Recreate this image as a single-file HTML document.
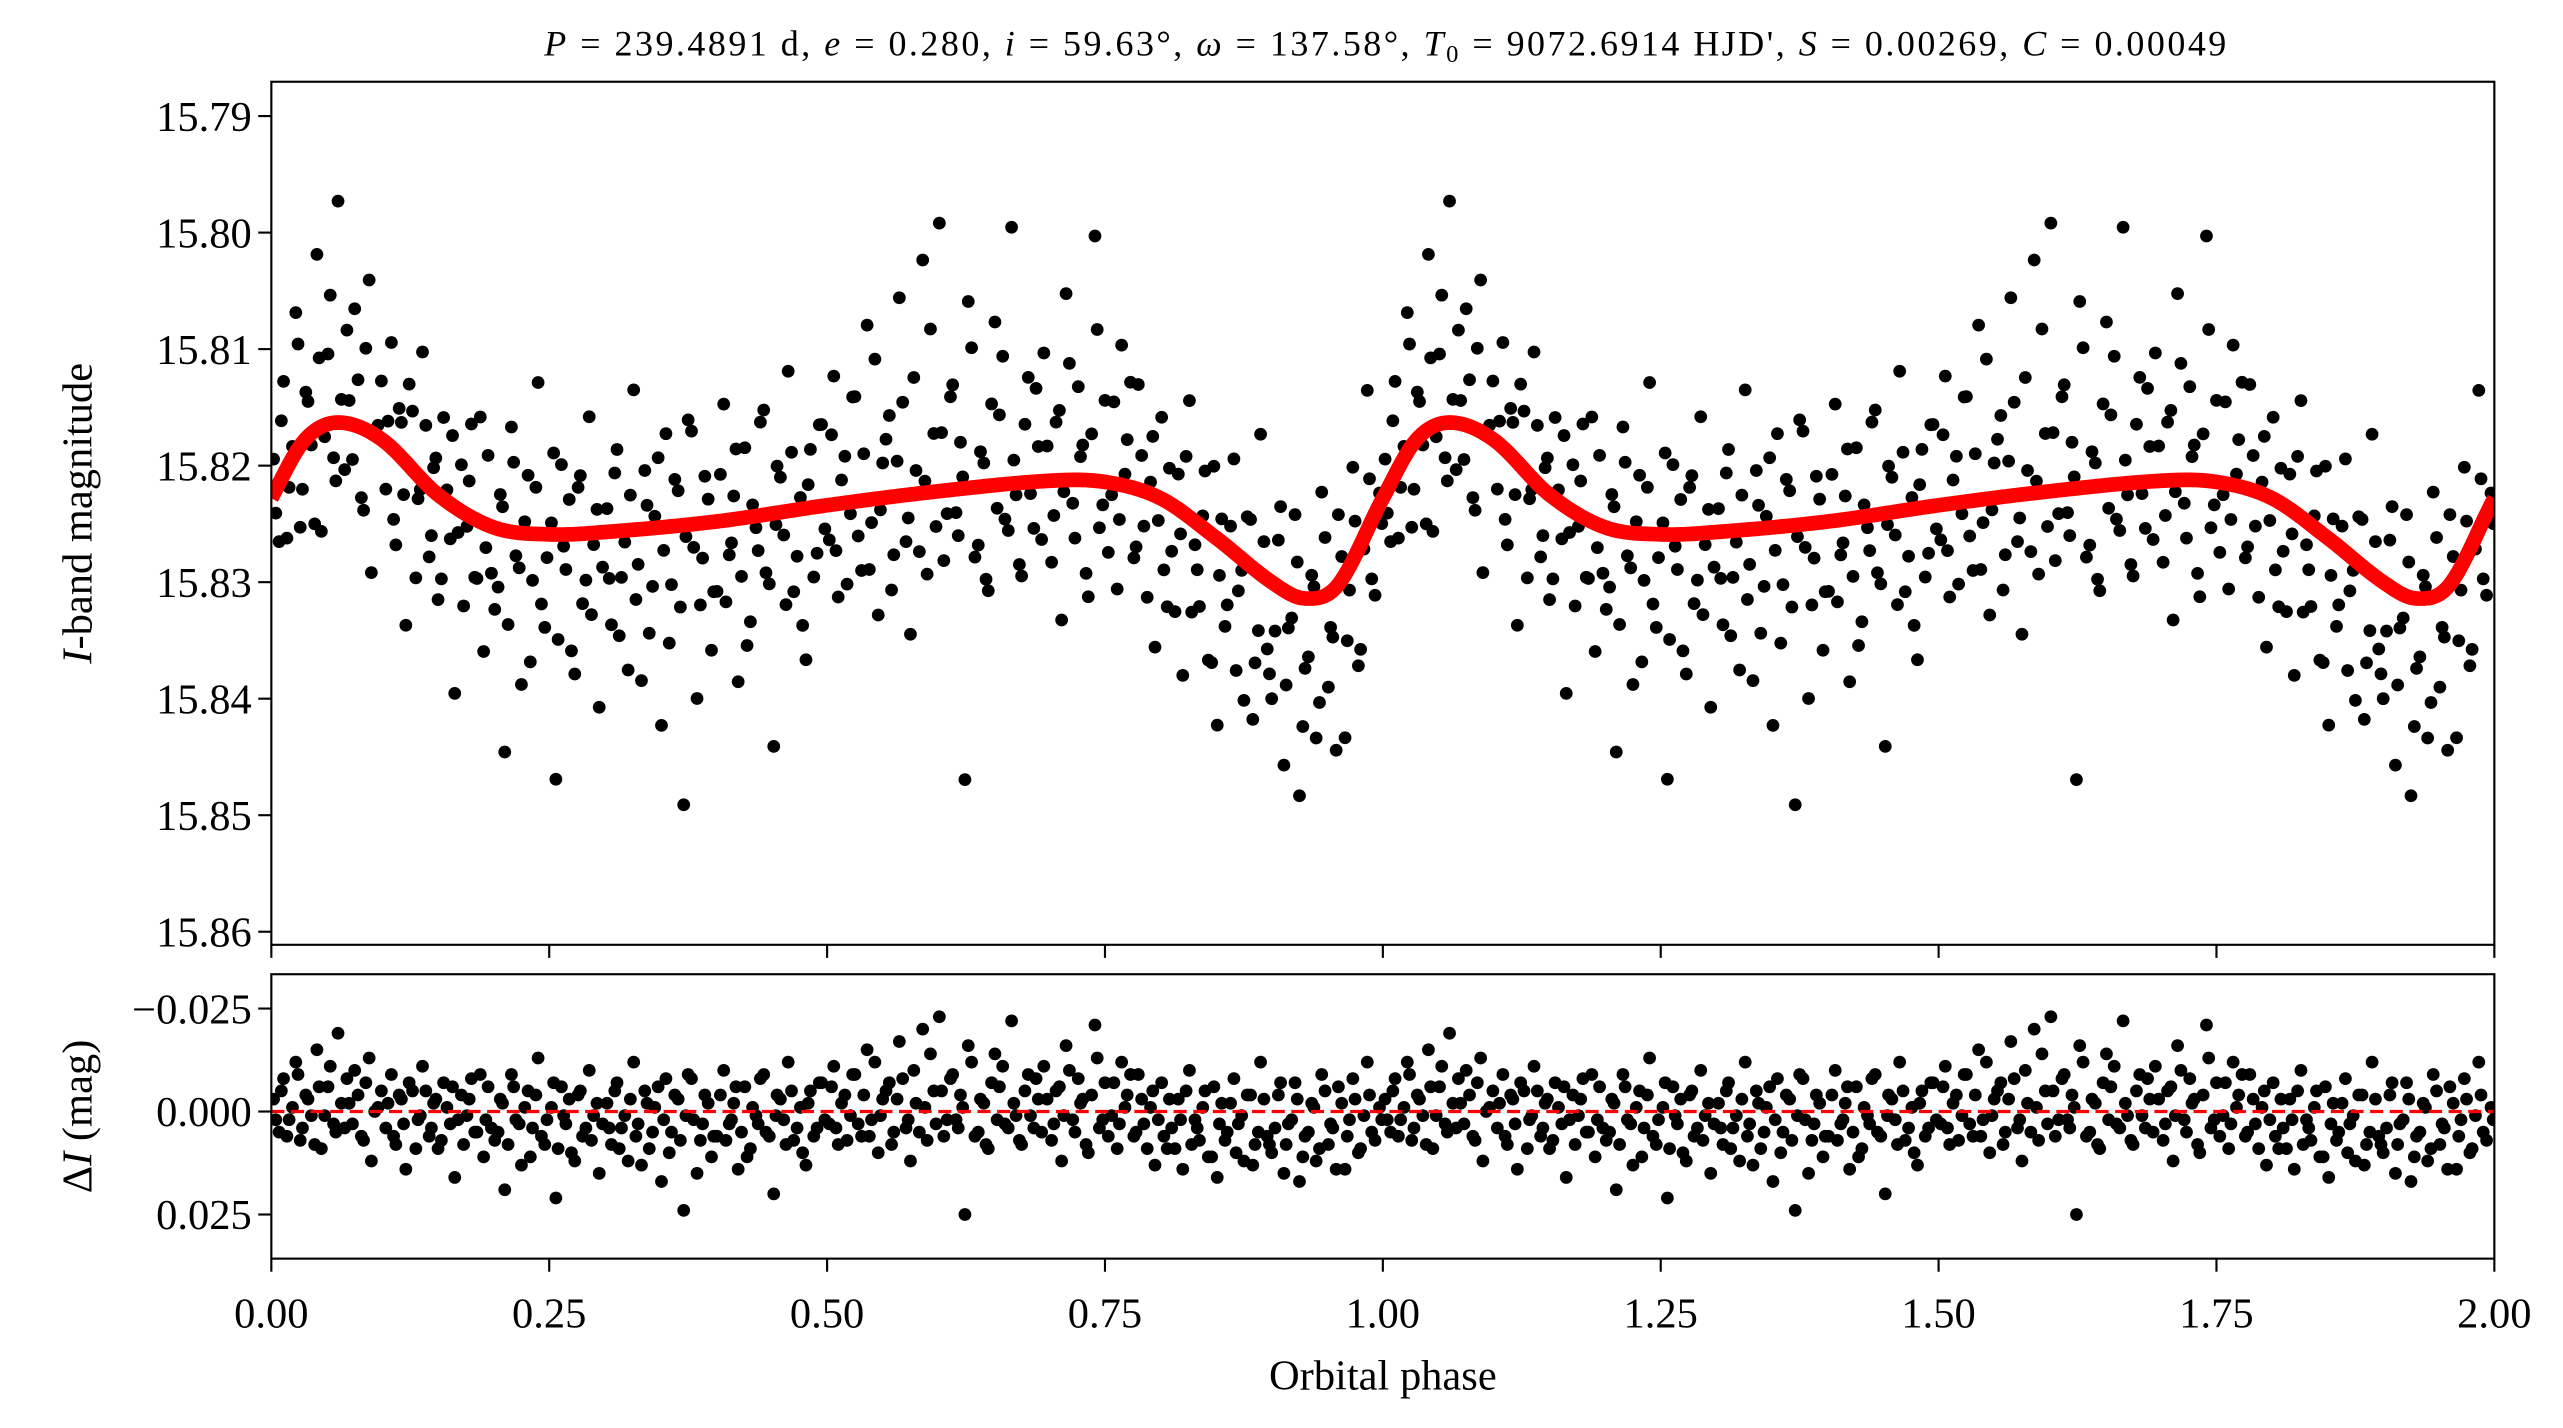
<!DOCTYPE html>
<html><head><meta charset="utf-8"><style>
html,body{margin:0;padding:0;background:#fff}
svg{display:block;font-family:"Liberation Serif",serif}
</style></head><body>
<svg id="chart" width="2563" height="1428" viewBox="0 0 1568 873.6" xmlns="http://www.w3.org/2000/svg">
<text x="333" y="34" font-size="22" textLength="1029" lengthAdjust="spacing"><tspan font-style="italic">P</tspan> = 239.4891 d, <tspan font-style="italic">e</tspan> = 0.280, <tspan font-style="italic">i</tspan> = 59.63°, <tspan font-style="italic">ω</tspan> = 137.58°, <tspan font-style="italic">T</tspan><tspan font-size="15" dy="4">0</tspan><tspan dy="-4"> = 9072.6914 HJD', </tspan><tspan font-style="italic">S</tspan> = 0.00269, <tspan font-style="italic">C</tspan> = 0.00049</text>
<g id="gtop"></g>
<g id="gbot"></g>
<text transform="translate(56,314) rotate(-90)" font-size="26" text-anchor="middle"><tspan font-style="italic">I</tspan>-band magnitude</text>
<text transform="translate(56,683) rotate(-90)" font-size="26" text-anchor="middle">Δ<tspan font-style="italic">I</tspan> (mag)</text>
<text x="846" y="850" font-size="26" text-anchor="middle">Orbital phase</text>
</svg>
<script>
const modelPhase=[0,0.03,0.06,0.1,0.15,0.2,0.25,0.3,0.4,0.5,0.6,0.7,0.75,0.8,0.85,0.9,0.93,0.96,1.0];
const modelMag=[15.8228,15.8178,15.8163,15.8178,15.8225,15.8253,15.8259,15.8257,15.8248,15.8234,15.8222,15.8213,15.8214,15.8228,15.8262,15.8300,15.8314,15.8302,15.8228];
const obsPhase=[0.002,0.007,0.011,0.016,0.022,0.026,0.031,0.036,0.041,0.045,0.051,0.056,0.060,0.066,0.070,0.075,0.081,0.085,0.090,0.096,
0.103,0.108,0.112,0.117,0.121,0.127,0.132,0.136,0.142,0.146,0.150,0.155,0.161,0.165,0.171,0.176,0.180,0.185,0.191,0.195,
0.201,0.206,0.210,0.216,0.220,0.225,0.231,0.235,0.240,0.246,0.252,0.256,0.261,0.265,0.270,0.276,0.280,0.286,0.290,0.295,
0.302,0.306,0.311,0.315,0.321,0.326,0.330,0.336,0.340,0.345,0.351,0.355,0.360,0.366,0.371,0.375,0.380,0.386,0.390,0.396,
0.401,0.407,0.412,0.416,0.420,0.426,0.431,0.436,0.440,0.445,0.452,0.455,0.461,0.465,0.470,0.476,0.481,0.485,0.491,0.495,
0.502,0.506,0.510,0.516,0.521,0.525,0.531,0.536,0.540,0.546,0.550,0.556,0.560,0.565,0.571,0.575,0.580,0.586,0.590,0.596,
0.601,0.605,0.611,0.616,0.620,0.624,0.630,0.636,0.641,0.645,0.651,0.655,0.660,0.666,0.670,0.675,0.681,0.686,0.690,0.695,
0.702,0.706,0.711,0.715,0.721,0.726,0.730,0.735,0.741,0.745,0.750,0.756,0.761,0.765,0.770,0.776,0.780,0.785,0.791,0.795,
0.801,0.806,0.810,0.816,0.820,0.826,0.831,0.835,0.840,0.846,0.851,0.855,0.860,0.866,0.870,0.875,0.881,0.885,0.890,0.896,
0.900,0.906,0.911,0.915,0.921,0.925,0.930,0.936,0.940,0.945,0.951,0.955,0.960,0.966,0.970,0.975,0.980,0.986,0.990,0.997];
const obsResidMmag=[-3,5,-8,2,-12,7,-4,1,-15,9,-6,3,-19,4,-2,-10,6,-7,12,-1,
4,-9,8,-3,14,-5,2,-11,6,-2,9,-7,3,16,-4,1,-8,5,11,-6,
7,-3,19,-9,2,13,-5,4,-13,8,-1,21,-6,3,10,-4,6,-10,1,15,
-2,8,-7,4,12,-12,3,-5,9,-1,17,-8,5,-3,24,-9,2,7,-4,11,
6,-10,3,-2,14,-6,9,1,-8,5,20,-4,2,-12,7,-1,13,-5,4,-7,
3,-11,8,-4,1,-9,6,-15,2,10,-3,-7,5,-17,4,12,-2,-20,7,-5,
-23,6,-8,2,-4,25,-12,5,-2,9,-14,-6,3,-22,1,8,-9,4,-3,-11,
7,-5,12,-16,2,-8,-3,10,-21,4,-7,1,9,-12,-4,6,-9,3,-1,13,
-7,9,4,-3,14,-10,2,7,-5,11,16,-2,5,-8,3,12,-4,8,-12,6,
10,-4,15,3,-7,17,6,-2,12,-9,8,4,-6,14,2,-3,9,-12,5,-1];
const obsPhase2=[0.004,0.009,0.014,0.019,0.024,0.028,0.033,0.039,0.043,0.048,0.053,0.058,0.063,0.068,0.073,0.078,0.083,0.088,0.093,0.099,
0.105,0.110,0.115,0.119,0.124,0.130,0.134,0.139,0.144,0.148,0.153,0.158,0.163,0.168,0.173,0.178,0.183,0.188,0.193,0.198,
0.204,0.208,0.213,0.218,0.223,0.228,0.233,0.238,0.243,0.248,0.254,0.258,0.263,0.268,0.273,0.278,0.283,0.288,0.293,0.298,
0.304,0.309,0.313,0.318,0.323,0.328,0.333,0.338,0.343,0.348,0.353,0.358,0.363,0.368,0.373,0.378,0.383,0.388,0.393,0.398,
0.404,0.409,0.414,0.418,0.423,0.428,0.433,0.438,0.443,0.448,0.454,0.458,0.463,0.468,0.473,0.478,0.483,0.488,0.493,0.498,
0.504,0.508,0.513,0.518,0.523,0.528,0.533,0.538,0.543,0.548,0.553,0.558,0.563,0.568,0.573,0.578,0.583,0.588,0.593,0.598,
0.603,0.608,0.613,0.618,0.622,0.627,0.633,0.638,0.643,0.648,0.653,0.658,0.663,0.668,0.673,0.678,0.683,0.688,0.693,0.698,
0.704,0.709,0.713,0.718,0.723,0.728,0.733,0.738,0.743,0.748,0.753,0.758,0.763,0.768,0.773,0.778,0.783,0.788,0.793,0.798,
0.803,0.808,0.813,0.818,0.823,0.828,0.833,0.838,0.843,0.848,0.853,0.858,0.863,0.868,0.873,0.878,0.883,0.888,0.893,0.898,
0.903,0.908,0.913,0.918,0.923,0.928,0.933,0.938,0.943,0.948,0.953,0.958,0.963,0.968,0.973,0.978,0.983,0.988,0.993,0.999];
const obsResidMmag2=[2,-5,6,-1,-9,4,-3,8,-6,1,-11,5,-2,-8,3,-4,7,-13,0,-5,
-2,6,-4,3,-7,9,1,-5,4,-3,7,-1,-6,2,8,-3,5,-9,2,4,
5,-2,8,-6,3,-1,11,-4,6,2,-7,9,1,-3,12,-5,4,7,-2,3,
4,-5,9,1,-3,6,13,-2,5,-6,2,10,-4,7,1,-8,15,3,-2,6,
-4,7,2,-6,5,11,-1,3,-9,6,1,-3,8,-5,4,10,-2,6,-7,2,
-6,4,-2,7,-9,3,-4,6,-12,1,-5,8,-3,-8,2,-10,5,-1,-14,3,
-5,2,-9,4,-1,-16,6,-3,8,-7,2,-11,4,-2,7,-5,1,-8,5,-3,
3,-6,1,-10,5,-2,8,-4,-13,2,6,-7,3,-1,-9,5,-3,9,-5,2,
6,-3,9,2,-5,8,4,-1,11,-6,3,7,-2,10,1,-4,13,5,-3,8,
4,-7,8,2,-3,11,5,-1,9,-5,3,14,-2,6,-8,10,1,-4,7,2];
const xTicks=[0,0.25,0.5,0.75,1,1.25,1.5,1.75,2];
const xTickLabels=["0.00","0.25","0.50","0.75","1.00","1.25","1.50","1.75","2.00"];
const yTopTicks=[15.79,15.80,15.81,15.82,15.83,15.84,15.85,15.86];
const yTopLabels=["15.79","15.80","15.81","15.82","15.83","15.84","15.85","15.86"];
const yBotTicks=[-0.025,0,0.025];
const yBotLabels=["\u22120.025","0.000","0.025"];

const NS="http://www.w3.org/2000/svg";
const L=166,R=1526,T1=50,B1=578,T2=596,B2=770;
const xs=p=>L+(p/2)*(R-L);
const yTop=m=>71+(m-15.79)/0.07*(570-71);
const yBot=r=>680+r/0.025*63;
function el(tag,attrs,parent){const e=document.createElementNS(NS,tag);for(const k in attrs)e.setAttribute(k,attrs[k]);parent.appendChild(e);return e;}
function model(p){
 p=((p%1)+1)%1;
 const n=modelPhase.length-1;
 let i=0;while(i<n-1&&p>modelPhase[i+1])i++;
 const P=k=>{const kk=((k%n)+n)%n;return modelMag[kk];};
 const X=k=>{const off=Math.floor(k/n);const kk=((k%n)+n)%n;return modelPhase[kk]+off;};
 const x0=X(i-1),x1=X(i),x2=X(i+1),x3=X(i+2);
 const y0=P(i-1),y1=P(i),y2=P(i+1),y3=P(i+2);
 const t=(p-x1)/(x2-x1);
 const m1=(y2-y0)/(x2-x0)*(x2-x1),m2=(y3-y1)/(x3-x1)*(x2-x1);
 const t2=t*t,t3=t2*t;
 return (2*t3-3*t2+1)*y1+(t3-2*t2+t)*m1+(-2*t3+3*t2)*y2+(t3-t2)*m2;
}
const gTop=document.getElementById('gtop'),gBot=document.getElementById('gbot');
const defs=el('defs',{},gTop);
const c1=el('clipPath',{id:'c1'},defs);el('rect',{x:L,y:T1,width:R-L,height:B1-T1},c1);
const c2=el('clipPath',{id:'c2'},defs);el('rect',{x:L,y:T2,width:R-L,height:B2-T2},c2);
const g1=el('g',{'clip-path':'url(#c1)'},gTop);
const g2=el('g',{'clip-path':'url(#c2)'},gBot);
function drawSet(ph,res){
 for(let cyc=0;cyc<2;cyc++){
  for(let i=0;i<ph.length;i++){
   const p=ph[i]+cyc, r=res[i]/1000;
   const d=el('circle',{cx:xs(p),cy:yTop(model(ph[i])+r),r:3.9,fill:'#000'},g1);
   
   
   const d2=el('circle',{cx:xs(p),cy:yBot(r),r:3.9,fill:'#000'},g2);
   
   
  }
 }
}
drawSet(obsPhase,obsResidMmag);
drawSet(obsPhase2,obsResidMmag2);
let pts=[];for(let k=0;k<=800;k++){const p=k/400;pts.push(xs(p).toFixed(2)+','+yTop(model(p)).toFixed(2));}
const ml=el('polyline',{points:pts.join(' '),fill:'none',stroke:'#ff0000','stroke-width':9,'stroke-linejoin':'round'},g1);


const zl=el('line',{x1:L,x2:R,y1:yBot(0),y2:yBot(0),stroke:'#ff0000','stroke-width':2,'stroke-dasharray':'8,4'},g2);


const f1=el('rect',{x:L,y:T1,width:R-L,height:B1-T1,fill:'none',stroke:'#000','stroke-width':1.3},gTop);


const f2=el('rect',{x:L,y:T2,width:R-L,height:B2-T2,fill:'none',stroke:'#000','stroke-width':1.3},gBot);


yTopTicks.forEach((v,i)=>{const y=yTop(v);el('line',{x1:L-8,x2:L,y1:y,y2:y,stroke:'#000','stroke-width':1.3},gTop);
 const t=el('text',{x:L-12,y:y+9,'font-size':26,'text-anchor':'end'},gTop);t.textContent=yTopLabels[i];
 
 });
yBotTicks.forEach((v,i)=>{const y=yBot(v);el('line',{x1:L-8,x2:L,y1:y,y2:y,stroke:'#000','stroke-width':1.3},gBot);
 const t=el('text',{x:L-12,y:y+9,'font-size':26,'text-anchor':'end'},gBot);t.textContent=yBotLabels[i];
 
 });
xTicks.forEach((v,i)=>{const x=xs(v);el('line',{x1:x,x2:x,y1:B1,y2:B1+8,stroke:'#000','stroke-width':1.3},gTop);
 el('line',{x1:x,x2:x,y1:B2,y2:B2+8,stroke:'#000','stroke-width':1.3},gBot);
 const t=el('text',{x:x,y:812,'font-size':26,'text-anchor':'middle'},gBot);t.textContent=xTickLabels[i];
 
 });
</script>
</body></html>
